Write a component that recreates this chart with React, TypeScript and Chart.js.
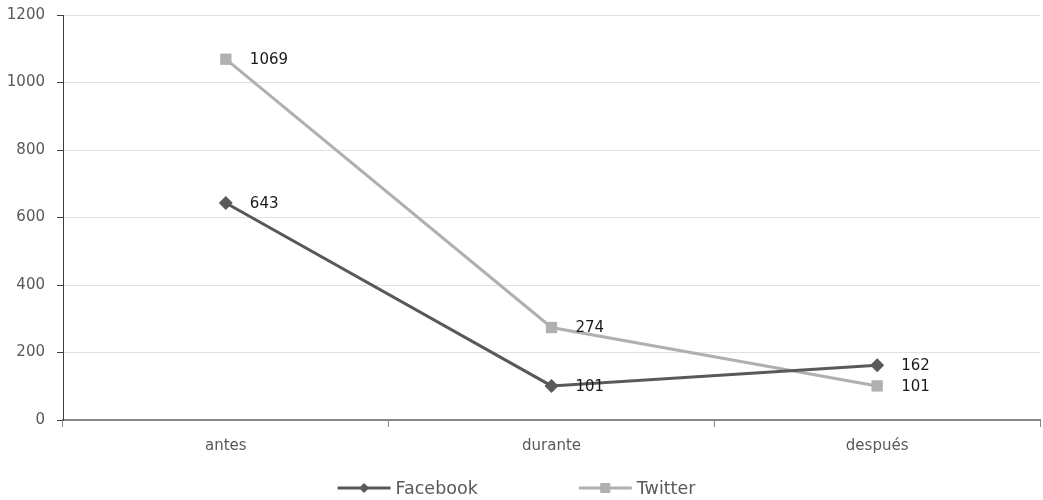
import React, { useEffect, useRef } from "react";
import { Chart, registerables } from "chart.js";

Chart.register(...registerables);

const categories = ["antes", "durante", "después"];
const facebookValues = [643, 101, 162];
const twitterValues = [1069, 274, 101];
const seriesNames = ["Facebook", "Twitter"];
const yMin = 0;
const yMax = 1200;
const yStep = 200;

const FONT = "'DejaVu Sans', sans-serif";
const FB_COLOR = "#595959";
const TW_COLOR = "#b0b0b0";

const dataLabelPlugin = {
  id: "dataLabels",
  afterDatasetsDraw(chart: any) {
    const ctx = chart.ctx;
    ctx.save();
    ctx.font = `15px ${FONT}`;
    ctx.fillStyle = "#1a1a1a";
    ctx.textAlign = "left";
    ctx.textBaseline = "middle";
    chart.data.datasets.forEach((ds: any, i: number) => {
      const meta = chart.getDatasetMeta(i);
      meta.data.forEach((pt: any, j: number) => {
        ctx.fillText(String(ds.data[j]), pt.x + 24, pt.y + 1);
      });
    });
    ctx.restore();
  },
};

const legendPlugin = {
  id: "customLegend",
  afterDraw(chart: any) {
    const ctx = chart.ctx;
    ctx.save();
    ctx.font = `17.5px ${FONT}`;
    const lineW = 53;
    const gapText = 5;
    const gapItems = 101;
    const items = chart.data.datasets.map((ds: any) => ({
      ds,
      w: lineW + gapText + ctx.measureText(ds.label).width,
    }));
    const total = items.reduce((s: number, it: any) => s + it.w, 0) + gapItems * (items.length - 1);
    let x = chart.width / 2 - total / 2 - 5;
    const y = 488;
    items.forEach((it: any) => {
      const ds = it.ds;
      ctx.strokeStyle = ds.borderColor;
      ctx.lineWidth = 3;
      ctx.beginPath();
      ctx.moveTo(x, y);
      ctx.lineTo(x + lineW, y);
      ctx.stroke();
      ctx.fillStyle = ds.pointBackgroundColor;
      const cx = x + lineW / 2;
      if (ds.pointStyle === "rect") {
        ctx.fillRect(cx - 5, y - 5, 10, 10);
      } else {
        ctx.beginPath();
        ctx.moveTo(cx, y - 5);
        ctx.lineTo(cx + 5, y);
        ctx.lineTo(cx, y + 5);
        ctx.lineTo(cx - 5, y);
        ctx.closePath();
        ctx.fill();
      }
      ctx.fillStyle = "#595959";
      ctx.textAlign = "left";
      ctx.textBaseline = "middle";
      ctx.fillText(ds.label, x + lineW + gapText, y + 1);
      x += it.w + gapItems;
    });
    ctx.restore();
  },
};

export default function App() {
  const canvasRef = useRef<HTMLCanvasElement | null>(null);

  useEffect(() => {
    document.body.style.margin = "0";
    const canvas = canvasRef.current;
    if (!canvas) return;
    const chart = new Chart(canvas, {
      type: "line",
      data: {
        labels: categories,
        datasets: [
          {
            label: seriesNames[0],
            data: facebookValues,
            borderColor: FB_COLOR,
            backgroundColor: FB_COLOR,
            pointBackgroundColor: FB_COLOR,
            pointBorderColor: FB_COLOR,
            borderWidth: 3,
            pointStyle: "rectRot",
            pointRadius: 7,
            pointBorderWidth: 0,
            tension: 0,
          },
          {
            label: seriesNames[1],
            data: twitterValues,
            borderColor: TW_COLOR,
            backgroundColor: TW_COLOR,
            pointBackgroundColor: TW_COLOR,
            pointBorderColor: TW_COLOR,
            borderWidth: 3,
            pointStyle: "rect",
            pointRadius: 8,
            pointBorderWidth: 0,
            tension: 0,
          },
        ],
      },
      options: {
        responsive: false,
        animation: false,
        layout: { autoPadding: false, padding: { top: 15, left: 0, right: 3, bottom: 40 } },
        plugins: {
          legend: { display: false },
          tooltip: { enabled: false },
        },
        scales: {
          x: {
            offset: true,
            grid: {
              offset: true,
              drawOnChartArea: false,
              drawTicks: true,
              tickLength: 7,
              tickColor: "#868686",
            },
            border: { color: "#868686", width: 2 },
            ticks: { color: "#595959", font: { family: FONT, size: 15 }, padding: 10 },
            afterFit: (scale: any) => {
              scale.height = 40;
              scale.paddingLeft = 0;
              scale.paddingRight = 0;
            },
          },
          y: {
            min: yMin,
            max: yMax,
            ticks: {
              stepSize: yStep,
              color: "#595959",
              font: { family: FONT, size: 15 },
              padding: 12,
              callback: (v: any) => String(v),
            },
            grid: { color: "#e0e0e0", tickColor: "#404040", tickLength: 6 },
            border: { color: "#404040", width: 1 },
            afterFit: (scale: any) => {
              scale.width = 63;
              scale.paddingTop = 0;
              scale.paddingBottom = 0;
            },
          },
        },
      },
      plugins: [dataLabelPlugin, legendPlugin],
    });
    return () => chart.destroy();
  }, []);

  return <canvas ref={canvasRef} width={1043} height={500} style={{ display: "block" }} />;
}
